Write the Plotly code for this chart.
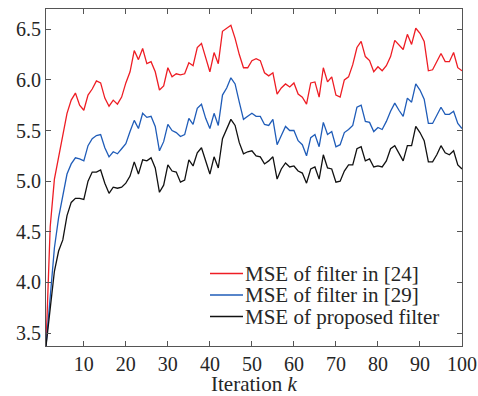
import plotly.graph_objects as go

iterations = list(range(1, 101))

mse_filter_24 = [
    3.37, 4.55, 5.02, 5.25, 5.44, 5.67, 5.80, 5.87, 5.75, 5.70,
    5.85, 5.91, 5.99, 5.97, 5.82, 5.74, 5.80, 5.76, 5.83, 5.97,
    6.08, 6.29, 6.20, 6.31, 6.16, 6.18, 6.08, 5.90, 5.94, 6.12,
    6.03, 6.06, 6.05, 6.06, 6.17, 6.14, 6.32, 6.36, 6.22, 6.08,
    6.27, 6.16, 6.48, 6.51, 6.54, 6.41, 6.25, 6.12, 6.12, 6.19,
    6.21, 6.19, 6.07, 6.04, 6.07, 5.86, 5.92, 5.96, 5.93, 5.97,
    5.86, 5.83, 5.76, 5.97, 5.98, 5.83, 6.12, 5.98, 6.03, 5.85,
    5.83, 6.00, 6.03, 6.15, 6.32, 6.38, 6.23, 6.19, 6.08, 6.13,
    6.09, 6.14, 6.23, 6.39, 6.34, 6.30, 6.45, 6.35, 6.51, 6.46,
    6.38, 6.09, 6.10, 6.18, 6.26, 6.18, 6.18, 6.27, 6.12, 6.09,
]

mse_filter_29 = [
    3.37, 3.84, 4.34, 4.64, 4.84, 5.07, 5.17, 5.23, 5.22, 5.20,
    5.35, 5.42, 5.45, 5.46, 5.33, 5.24, 5.29, 5.27, 5.32, 5.37,
    5.49, 5.60, 5.52, 5.67, 5.63, 5.64, 5.54, 5.30, 5.39, 5.56,
    5.50, 5.48, 5.44, 5.46, 5.62, 5.56, 5.72, 5.76, 5.62, 5.52,
    5.67, 5.55, 5.85, 5.92, 6.02, 5.96, 5.78, 5.61, 5.64, 5.67,
    5.64, 5.64, 5.56, 5.55, 5.61, 5.36, 5.45, 5.54, 5.50, 5.50,
    5.40, 5.36, 5.25, 5.43, 5.46, 5.34, 5.58, 5.46, 5.49, 5.34,
    5.36, 5.48, 5.51, 5.55, 5.73, 5.75, 5.59, 5.58, 5.49, 5.53,
    5.51, 5.59, 5.69, 5.77, 5.70, 5.64, 5.82, 5.78, 5.96, 5.90,
    5.81, 5.57, 5.57, 5.65, 5.73, 5.66, 5.66, 5.69, 5.57, 5.52,
]

mse_proposed = [
    3.37, 3.74, 4.11, 4.31, 4.42, 4.66, 4.79, 4.83, 4.83, 4.82,
    5.00, 5.09, 5.09, 5.11, 4.98, 4.88, 4.94, 4.93, 4.94, 4.98,
    5.05, 5.19, 5.07, 5.21, 5.20, 5.23, 5.13, 4.89, 4.96, 5.16,
    5.10, 5.09, 4.99, 5.01, 5.21, 5.15, 5.28, 5.33, 5.20, 5.07,
    5.24, 5.13, 5.42, 5.52, 5.61, 5.55, 5.38, 5.27, 5.29, 5.30,
    5.25, 5.24, 5.17, 5.20, 5.24, 5.02, 5.12, 5.18, 5.14, 5.15,
    5.10, 5.08, 4.98, 5.12, 5.14, 5.02, 5.26, 5.13, 5.12, 4.99,
    5.00, 5.10, 5.16, 5.16, 5.32, 5.34, 5.20, 5.22, 5.14, 5.15,
    5.14, 5.20, 5.32, 5.35, 5.27, 5.20, 5.35, 5.35, 5.54, 5.48,
    5.40, 5.19, 5.19, 5.26, 5.35, 5.28, 5.26, 5.30, 5.16, 5.12,
]

series_names = ["MSE of filter in [24]", "MSE of filter in [29]", "MSE of proposed filter"]
series_colors = ["#ee1d24", "#1f5cb8", "#111111"]
x_ticks = [10, 20, 30, 40, 50, 60, 70, 80, 90, 100]
y_ticks = [3.5, 4.0, 4.5, 5.0, 5.5, 6.0, 6.5]

FONT = "Liberation Serif"
TXT = "#262626"

fig = go.Figure()
for name, ys, col in zip(series_names, [mse_filter_24, mse_filter_29, mse_proposed], series_colors):
    fig.add_trace(go.Scatter(x=iterations, y=ys, mode="lines", name=name,
                             line=dict(color=col, width=1.3), showlegend=False,
                             hoverinfo="skip"))

axis_common = dict(showline=True, linecolor="#555555", linewidth=1.2, mirror="ticks",
                   ticks="inside", ticklen=5, tickwidth=1.2, tickcolor="#555555",
                   showgrid=False, zeroline=False, automargin=False,
                   tickfont=dict(family=FONT, size=20, color=TXT))

fig.update_xaxes(range=[1, 100], tickvals=x_ticks, **axis_common)
fig.update_yaxes(range=[3.372, 6.70], tickvals=y_ticks, tickformat=".1f", **axis_common)

# plot-area pixel geometry, used only to place the legend and axis title
L, R, T, B = 46, 462, 9, 346
W, H = R - L, B - T

def px_x(p):
    return (p - L) / W

def px_y(p):
    return (B - p) / H

# hand-built legend (compact row spacing as in the reference)
legend_rows = [273.5, 295.0, 316.5]
for name, col, ry in zip(series_names, series_colors, legend_rows):
    fig.add_shape(type="line", xref="paper", yref="paper",
                  x0=px_x(210), x1=px_x(243), y0=px_y(ry), y1=px_y(ry),
                  line=dict(color=col, width=1.3))
    fig.add_annotation(xref="paper", yref="paper", x=px_x(243), y=px_y(ry),
                       xanchor="left", yanchor="middle", showarrow=False,
                       text=name, font=dict(family=FONT, size=21, color=TXT))

fig.add_annotation(xref="paper", yref="paper", x=px_x(254), y=px_y(384),
                   xanchor="center", yanchor="middle", showarrow=False,
                   text="Iteration <i>k</i>", font=dict(family=FONT, size=21, color=TXT))

fig.update_layout(
    width=478, height=396,
    margin=dict(l=L, r=478 - R, t=T, b=396 - B, autoexpand=False),
    paper_bgcolor="white", plot_bgcolor="white",
    showlegend=False,
    font=dict(family=FONT),
)

fig.write_html("out.html", config={"displayModeBar": False},
               post_script="document.body.style.margin='0';document.body.style.overflow='hidden';")
